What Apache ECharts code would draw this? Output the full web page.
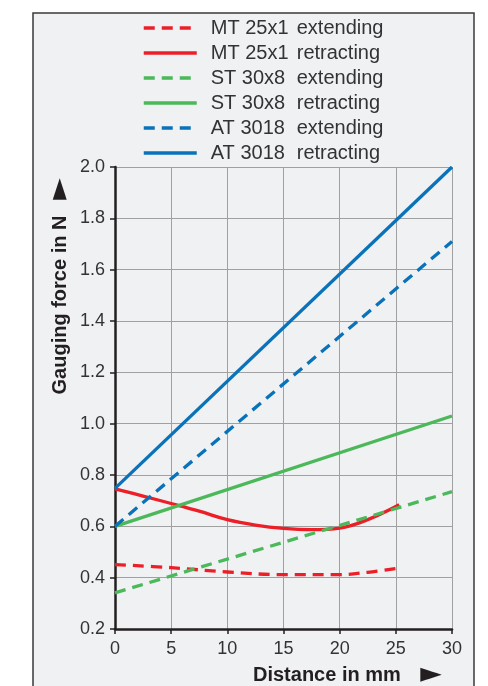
<!DOCTYPE html>
<html><head><meta charset="utf-8">
<script src="https://cdn.jsdelivr.net/npm/echarts@6/dist/echarts.min.js"></script>
<style>html,body{margin:0;padding:0;background:#fff}#c{width:488px;height:686px}</style>
</head><body><div id="c"></div>
<script>
// Data
const seriesNames = ['MT 25x1 extending','MT 25x1 retracting','ST 30x8 extending','ST 30x8 retracting','AT 3018 extending','AT 3018 retracting'];
const mtExtX = [0, 5, 10, 15, 20, 22.5, 25.3];
const mtExtY = [0.451, 0.439, 0.422, 0.412, 0.412, 0.421, 0.437];
const mtRetX = [0, 2.5, 5, 7.5, 10, 12.5, 15, 17.5, 20, 22.5, 25.3];
const mtRetY = [0.746, 0.718, 0.689, 0.659, 0.626, 0.605, 0.592, 0.587, 0.593, 0.626, 0.684];
const stExtX = [0, 30];
const stExtY = [0.341, 0.735];
const stRetX = [0, 30];
const stRetY = [0.600, 1.030];
const atExtX = [0, 30];
const atExtY = [0.600, 1.710];
const atRetX = [0, 30];
const atRetY = [0.748, 2.000];
const xTicks = [0, 5, 10, 15, 20, 25, 30];
const yTicks = [0.2, 0.4, 0.6, 0.8, 1.0, 1.2, 1.4, 1.6, 1.8, 2.0];

const RED = '#ec1f28', GREEN = '#4bb85a', BLUE = '#0a72b9';
const FONT = '"Liberation Sans", Arial, sans-serif';
const pairs = (xs, ys) => xs.map((x, i) => [x, ys[i]]);
function mk(name, xs, ys, color, dashed, smooth) {
  return {
    name, type: 'line', data: pairs(xs, ys), smooth: smooth ? 0.4 : false,
    symbol: 'none', showSymbol: false,
    lineStyle: { color, width: 3.3, type: dashed ? [11, 7] : 'solid' },
    itemStyle: { color }, emphasis: { disabled: true }
  };
}
const chart = echarts.init(document.getElementById('c'), null, { renderer: 'canvas' });
chart.setOption({
  backgroundColor: '#ffffff',
  animation: false,
  graphic: [
    { type: 'rect', z: -10, shape: { x: 33, y: 13, width: 441, height: 690 },
      style: { fill: '#f0f1f3', stroke: '#3a3a3a', lineWidth: 1.5 } },
    { type: 'text', x: 60, y: 305, rotation: Math.PI / 2,
      style: { text: 'Gauging force in N', font: 'bold 20px ' + FONT, fill: '#231f20', align: 'center', verticalAlign: 'middle' } },
    { type: 'text', x: 60, y: 189, rotation: Math.PI / 2,
      style: { text: '►', font: '28px "DejaVu Sans", sans-serif', fill: '#231f20', align: 'center', verticalAlign: 'middle' } },
    { type: 'text', x: 253, y: 675,
      style: { text: 'Distance in mm', font: 'bold 20px ' + FONT, fill: '#231f20', align: 'left', verticalAlign: 'middle' } },
    { type: 'text', x: 431, y: 675,
      style: { text: '►', font: '28px "DejaVu Sans", sans-serif', fill: '#231f20', align: 'center', verticalAlign: 'middle' } }
  ],
  legend: {
    orient: 'vertical', left: 137, top: 13, itemWidth: 53, itemHeight: 14, itemGap: 5,
    data: seriesNames,
    itemStyle: { opacity: 0 },
    lineStyle: { width: 3.5 },
    formatter: n => { const i = n.lastIndexOf(' '); return '{a|' + n.slice(0, i) + '}{b|' + n.slice(i + 1) + '}'; },
    textStyle: {
      color: '#333', fontFamily: FONT, fontSize: 20, padding: [0, 0, 0, 9],
      rich: { a: { width: 86, fontSize: 20, fontFamily: FONT, color: '#333' }, b: { fontSize: 20, fontFamily: FONT, color: '#333' } }
    }
  },
  grid: { left: 115, right: 36, top: 167, bottom: 57 },
  xAxis: {
    type: 'value', min: xTicks[0], max: xTicks[xTicks.length - 1], interval: 5,
    axisLine: { show: true, lineStyle: { color: '#231f20', width: 2.5 } },
    axisTick: { show: true, length: 5, lineStyle: { color: '#231f20', width: 1.5 } },
    axisLabel: { color: '#333', fontSize: 18, fontFamily: FONT, margin: 11 },
    splitLine: { show: true, lineStyle: { color: '#a0a0a0', width: 1 } }
  },
  yAxis: {
    type: 'value', min: yTicks[0], max: yTicks[yTicks.length - 1], interval: 0.2,
    axisLine: { show: true, lineStyle: { color: '#231f20', width: 2.5 } },
    axisTick: { show: true, length: 5, lineStyle: { color: '#231f20', width: 1.5 } },
    axisLabel: { color: '#333', fontSize: 18, fontFamily: FONT, margin: 10, formatter: v => v.toFixed(1) },
    splitLine: { show: true, lineStyle: { color: '#a0a0a0', width: 1 } }
  },
  series: [
    mk(seriesNames[0], mtExtX, mtExtY, RED, true, true),
    mk(seriesNames[1], mtRetX, mtRetY, RED, false, true),
    mk(seriesNames[2], stExtX, stExtY, GREEN, true, false),
    mk(seriesNames[3], stRetX, stRetY, GREEN, false, false),
    mk(seriesNames[4], atExtX, atExtY, BLUE, true, false),
    mk(seriesNames[5], atRetX, atRetY, BLUE, false, false)
  ]
});
</script></body></html>
